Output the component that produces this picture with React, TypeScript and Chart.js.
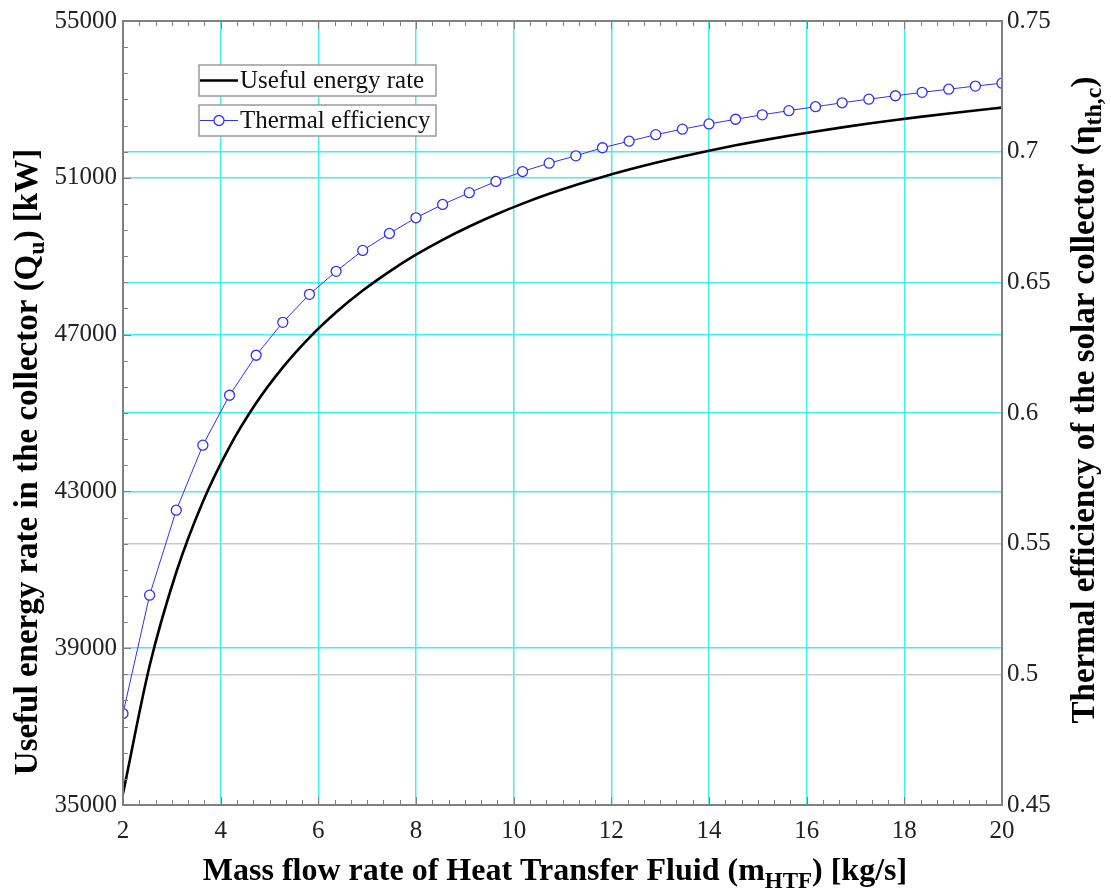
import React, { useEffect, useRef } from "react";
import { Chart, registerables } from "chart.js";

Chart.register(...registerables);

const massFlow = [2, 2.545, 3.091, 3.636, 4.182, 4.727, 5.273, 5.818, 6.364, 6.909, 7.455, 8, 8.545, 9.091, 9.636, 10.182, 10.727, 11.273, 11.818, 12.364, 12.909, 13.455, 14, 14.545, 15.091, 15.636, 16.182, 16.727, 17.273, 17.818, 18.364, 18.909, 19.455, 20];
const thermalEfficiency = [0.485, 0.5303, 0.5628, 0.5877, 0.6068, 0.6221, 0.6347, 0.6454, 0.6542, 0.6622, 0.6687, 0.6747, 0.6798, 0.6843, 0.6886, 0.6924, 0.6956, 0.6984, 0.7015, 0.704, 0.7065, 0.7086, 0.7106, 0.7124, 0.7141, 0.7157, 0.7172, 0.7187, 0.7201, 0.7214, 0.7227, 0.7239, 0.7251, 0.7262];
const usefulEnergy = [35290, 38552, 40938, 42738, 44138, 45253, 46163, 46923, 47568, 48123, 48608, 49038, 49418, 49758, 50064, 50341, 50591, 50817, 51022, 51210, 51383, 51543, 51691, 51828, 51955, 52073, 52183, 52286, 52383, 52474, 52560, 52641, 52718, 52791];

const seriesLabels = ["Useful energy rate", "Thermal efficiency"];
const xTitle = [{ t: "Mass flow rate of Heat Transfer Fluid (m" }, { t: "HTF", sub: true }, { t: ") [kg/s]" }];
const yTitle = [{ t: "Useful energy rate in the collector (Q" }, { t: "u", sub: true }, { t: ") [kW]" }];
const y1Title = [{ t: "Thermal efficiency of the solar collector (" }, { t: "η" }, { t: "th,c", sub: true }, { t: ")" }];

const CYAN = "#3ff2f2";
const GRAY_GRID = "#c8c8c8";
const FRAME = "#808080";
const BLUE = "#3030ff";
const SERIF = '"Liberation Serif", "Times New Roman", serif';

function drawRich(ctx: CanvasRenderingContext2D, segs: any[], cx: number, cy: number, angle: number, size: number) {
  ctx.save();
  ctx.translate(cx, cy);
  ctx.rotate(angle);
  ctx.textBaseline = "middle";
  ctx.textAlign = "left";
  ctx.fillStyle = "#000";
  const fonts = segs.map((s) => `bold ${s.sub ? Math.round(size * 0.72) : size}px ${SERIF}`);
  const widths = segs.map((s, i) => {
    ctx.font = fonts[i];
    return ctx.measureText(s.t).width;
  });
  const total = widths.reduce((a, b) => a + b, 0);
  let x = -total / 2;
  segs.forEach((s, i) => {
    ctx.font = fonts[i];
    ctx.fillText(s.t, x, s.sub ? size * 0.3 : 0);
    x += widths[i];
  });
  ctx.restore();
}

const decorPlugin = {
  id: "decor",
  afterDraw(chart: any) {
    const ctx = chart.ctx as CanvasRenderingContext2D;
    const { left, right, top, bottom } = chart.chartArea;
    const xs = chart.scales.x;
    const ys = chart.scales.y;
    ctx.save();
    // inward minor ticks
    ctx.strokeStyle = FRAME;
    ctx.lineWidth = 1;
    ctx.beginPath();
    for (let i = 0; i <= 54; i++) {
      const v = 2 + (i * 18) / 54;
      const px = Math.round(xs.getPixelForValue(v)) + 0.5;
      const len = i % 6 === 0 ? 8 : 5;
      ctx.moveTo(px, bottom);
      ctx.lineTo(px, bottom - len);
      ctx.moveTo(px, top);
      ctx.lineTo(px, top + len);
    }
    for (let i = 0; i <= 30; i++) {
      const v = 35000 + (i * 20000) / 30;
      const py = Math.round(ys.getPixelForValue(v)) + 0.5;
      const len = i % 6 === 0 ? 8 : 5;
      ctx.moveTo(left, py);
      ctx.lineTo(left + len, py);
    }
    ctx.stroke();
    // frame
    ctx.strokeStyle = FRAME;
    ctx.lineWidth = 2;
    ctx.strokeRect(left, top, right - left, bottom - top);

    // legend
    const boxes = [
      { y: 65, label: seriesLabels[0], marker: false },
      { y: 105, label: seriesLabels[1], marker: true },
    ];
    boxes.forEach((b) => {
      const bx = 199, bw = 237, bh = 31;
      ctx.fillStyle = "#fff";
      ctx.fillRect(bx, b.y, bw, bh);
      ctx.strokeStyle = "#9a9a9a";
      ctx.lineWidth = 1.5;
      ctx.strokeRect(bx, b.y, bw, bh);
      const cy = b.y + bh / 2;
      ctx.beginPath();
      ctx.moveTo(bx + 1, cy);
      ctx.lineTo(bx + 39, cy);
      if (b.marker) {
        ctx.strokeStyle = BLUE;
        ctx.lineWidth = 1;
        ctx.stroke();
        ctx.beginPath();
        ctx.arc(bx + 20, cy, 5, 0, Math.PI * 2);
        ctx.fillStyle = "#fff";
        ctx.fill();
        ctx.lineWidth = 1.3;
        ctx.stroke();
      } else {
        ctx.strokeStyle = "#000";
        ctx.lineWidth = 2.5;
        ctx.stroke();
      }
      ctx.fillStyle = "#111";
      ctx.font = `25px ${SERIF}`;
      ctx.textBaseline = "middle";
      ctx.textAlign = "left";
      ctx.fillText(b.label, bx + 41, cy + 1);
    });

    // axis titles
    drawRich(ctx, xTitle, 555, 872, 0, 32);
    drawRich(ctx, yTitle, 28, 462, -Math.PI / 2, 33);
    drawRich(ctx, y1Title, 1085, 400, -Math.PI / 2, 33);
    ctx.restore();
  },
};

export default function App() {
  const ref = useRef<HTMLCanvasElement | null>(null);
  useEffect(() => {
    if (!ref.current) return;
    const tickFont = { family: SERIF, size: 25 };
    const chart = new Chart(ref.current, {
      type: "line",
      data: {
        datasets: [
          {
            label: seriesLabels[0],
            data: massFlow.map((x, i) => ({ x, y: usefulEnergy[i] })),
            yAxisID: "y",
            borderColor: "#000",
            borderWidth: 2.6,
            pointRadius: 0,
            cubicInterpolationMode: "monotone",
            fill: false,
          },
          {
            label: seriesLabels[1],
            data: massFlow.map((x, i) => ({ x, y: thermalEfficiency[i] })),
            yAxisID: "y1",
            borderColor: BLUE,
            borderWidth: 1,
            pointRadius: 5,
            pointBorderWidth: 1.3,
            pointBackgroundColor: "#fff",
            pointBorderColor: BLUE,
            tension: 0,
            fill: false,
          },
        ],
      },
      options: {
        responsive: false,
        animation: false,
        devicePixelRatio: 1,
        layout: { padding: { top: 20, left: 0, right: 0, bottom: 0 } },
        plugins: { legend: { display: false }, tooltip: { enabled: false } },
        scales: {
          x: {
            type: "linear",
            min: 2,
            max: 20,
            ticks: { stepSize: 2, font: tickFont, color: "#222", padding: 11, maxRotation: 0 },
            grid: { color: CYAN, lineWidth: 1.5, drawTicks: false },
            border: { display: false },
            afterFit: (s: any) => { s.height = 90; },
          },
          y: {
            position: "left",
            min: 35000,
            max: 55000,
            ticks: { stepSize: 4000, font: tickFont, color: "#222", padding: 6, callback: (v: any) => String(v) },
            grid: { color: CYAN, lineWidth: 1.5, drawTicks: false },
            border: { display: false },
            afterFit: (s: any) => { s.width = 123; },
          },
          y1: {
            position: "right",
            min: 0.45,
            max: 0.75,
            ticks: { stepSize: 0.05, font: tickFont, color: "#222", padding: 5, callback: (v: any) => String(Number(Number(v).toFixed(2))) },
            grid: {
              color: (c: any) => (c.tick && c.tick.value < 0.575 ? GRAY_GRID : CYAN),
              lineWidth: 1.5,
              drawTicks: false,
            },
            border: { display: false },
            afterFit: (s: any) => { s.width = 109; },
          },
        },
      },
      plugins: [decorPlugin],
    } as any);
    return () => chart.destroy();
  }, []);
  return (
    <div style={{ position: "absolute", left: 0, top: 0, width: 1111, height: 895, background: "#fff" }}>
      <canvas ref={ref} width={1111} height={895} />
    </div>
  );
}
